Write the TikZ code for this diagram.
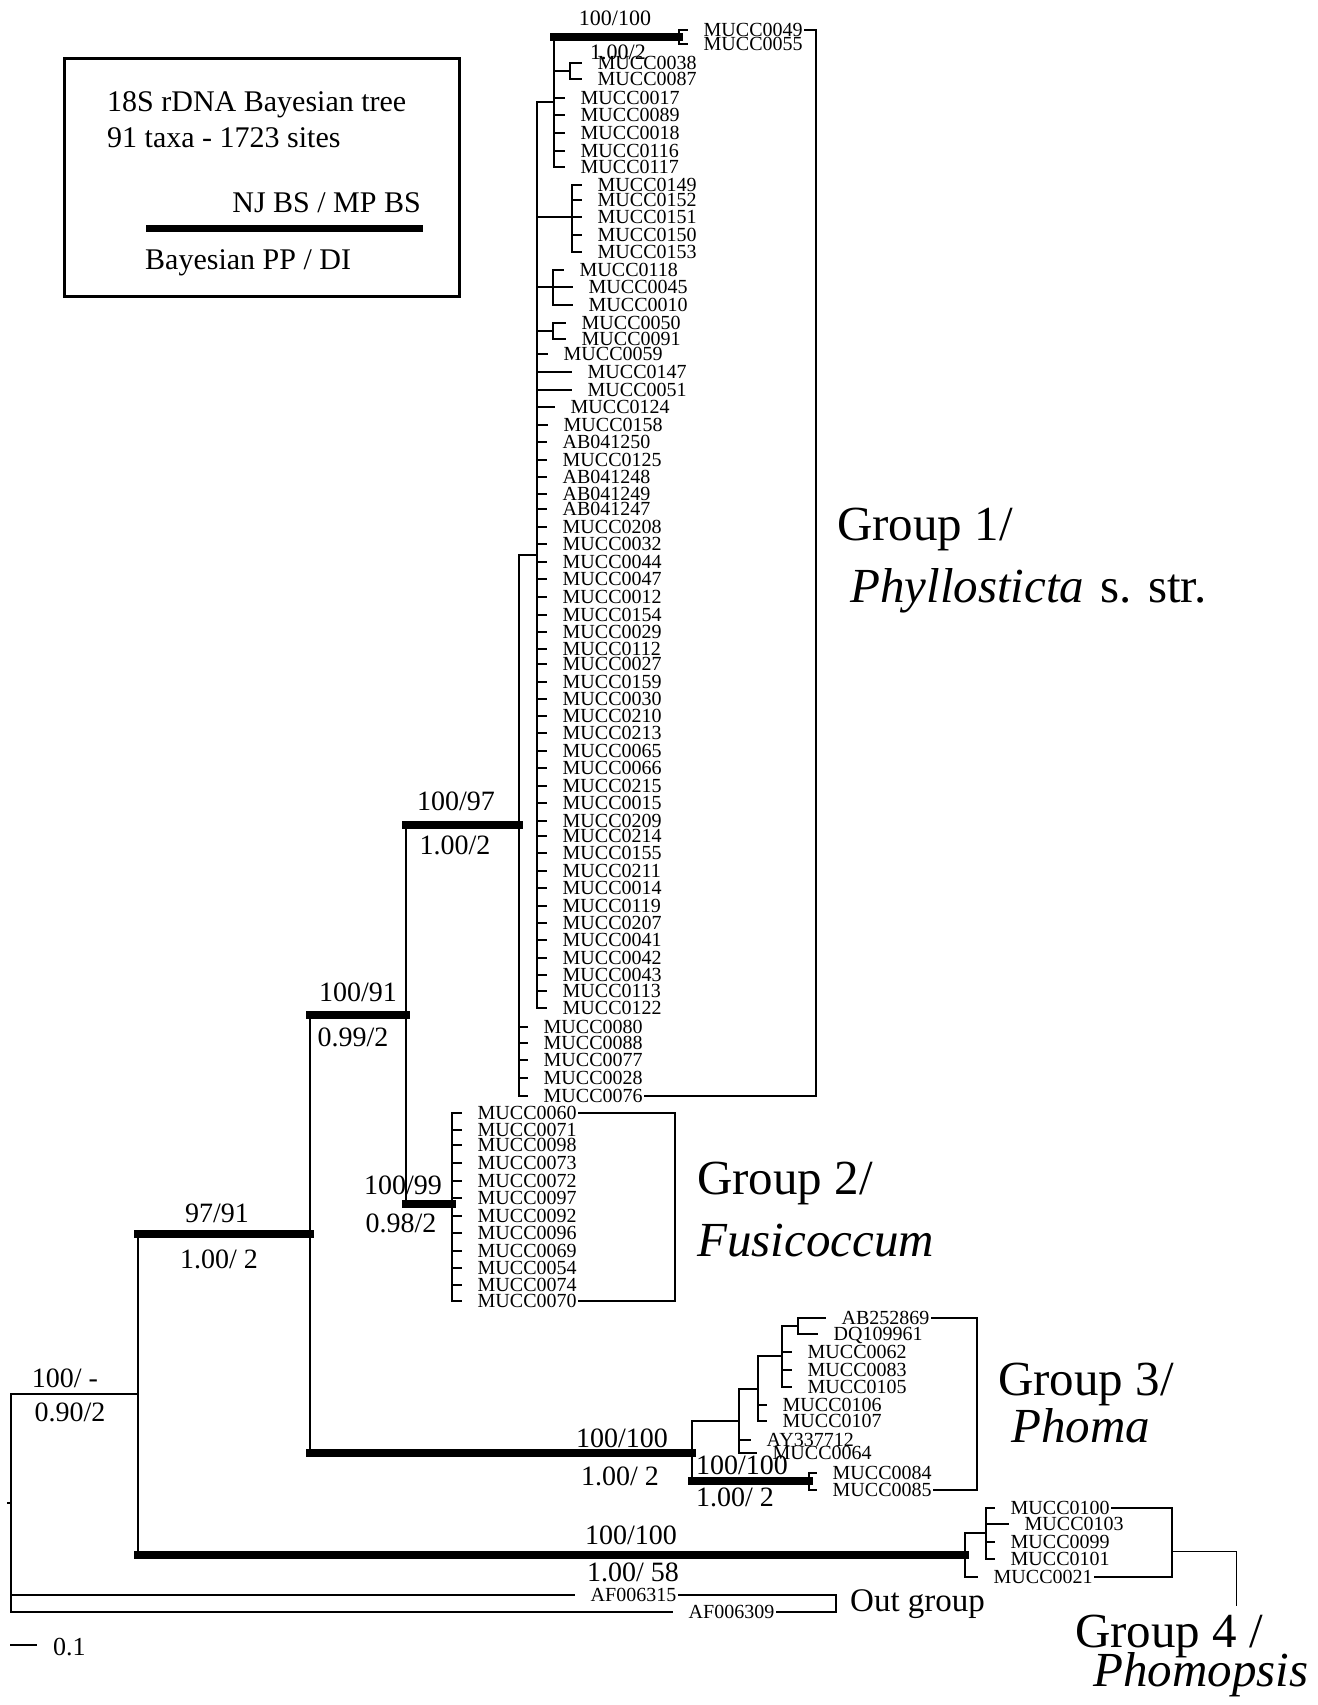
\documentclass[tikz,border=0pt]{standalone}
\usepackage{fontspec}
\setmainfont{Liberation Serif}
\begin{document}
\begin{tikzpicture}[x=1pt, y=-1pt,
    br/.style={line width=1.8pt},
    bar/.style={line width=8pt, line cap=rect},
    tip/.style={line width=1.8pt, shorten >=14pt},
    taxon/.style={anchor=west, inner xsep=1.5pt, inner ysep=0pt, text height=13pt, text depth=0pt, font=\fontsize{20}{20}\selectfont},
    supp/.style={inner sep=0pt, font=\fontsize{28}{28}\selectfont},
    legtxt/.style={inner sep=0pt, font=\fontsize{30}{30}\selectfont},
    grp/.style={anchor=base west, inner sep=0pt, font=\fontsize{49}{49}\selectfont}]
    \useasboundingbox (0,0) rectangle (1317,1705);

    % legend
    \node[draw, line width=2.5pt, minimum width=395pt, minimum height=238pt, anchor=north west] (legend) at (63,57) {};
    \node[legtxt, anchor=base west] (title) at (107,111) {18S rDNA Bayesian tree};
    \node[legtxt, anchor=base west] (taxa) at (107,147) {91 taxa - 1723 sites};
    \node[legtxt, anchor=base east] (bs) at (421,212) {NJ BS / MP BS};
    \node[legtxt, anchor=base west] (pp) at (145,269) {Bayesian PP / DI};
    \coordinate (lb0) at (146,228);
    \coordinate (lb1) at (423,228);
    \draw[line width=7pt] (lb0) -- (lb1);

    % internal nodes
    \coordinate (root) at (11,1503);
    \coordinate (rstub) at (7,1503);
    \coordinate (n1234) at (138,1394);
    \coordinate (n123) at (310,1234);
    \coordinate (n12) at (406,1015);
    \coordinate (ng1) at (519,825);
    \coordinate (na) at (537,555);
    \coordinate (nb) at (554,102);
    \coordinate (ntop) at (679,37);
    \coordinate (nc) at (570,71);
    \coordinate (nd) at (572,217);
    \coordinate (ne) at (553,287);
    \coordinate (nf) at (553,331);
    \coordinate (ng2) at (452,1204);
    \coordinate (ng3) at (692,1453);
    \coordinate (ng3a) at (739,1421);
    \coordinate (ng3b) at (809,1481);
    \coordinate (ng3c) at (758,1389);
    \coordinate (ng3d) at (782,1356);
    \coordinate (ng3e) at (798,1326);
    \coordinate (ng4) at (965,1555);
    \coordinate (ng4a) at (986,1533);

    % group 1 taxa
    \node[taxon] (m0049) at (702,30) {MUCC0049};
    \node[taxon] (m0055) at (702,44) {MUCC0055};
    \node[taxon] (m0038) at (596,63) {MUCC0038};
    \node[taxon] (m0087) at (596,79) {MUCC0087};
    \node[taxon] (m0017) at (579,98) {MUCC0017};
    \node[taxon] (m0089) at (579,115) {MUCC0089};
    \node[taxon] (m0018) at (579,133) {MUCC0018};
    \node[taxon] (m0116) at (579,151) {MUCC0116};
    \node[taxon] (m0117) at (579,167) {MUCC0117};
    \node[taxon] (m0149) at (596,185) {MUCC0149};
    \node[taxon] (m0152) at (596,200) {MUCC0152};
    \node[taxon] (m0151) at (596,217) {MUCC0151};
    \node[taxon] (m0150) at (596,235) {MUCC0150};
    \node[taxon] (m0153) at (596,252) {MUCC0153};
    \node[taxon] (m0118) at (578,270) {MUCC0118};
    \node[taxon] (m0045) at (587,287) {MUCC0045};
    \node[taxon] (m0010) at (587,305) {MUCC0010};
    \node[taxon] (m0050) at (580,323) {MUCC0050};
    \node[taxon] (m0091) at (580,339) {MUCC0091};
    \node[taxon] (m0059) at (562,354) {MUCC0059};
    \node[taxon] (m0147) at (586,372) {MUCC0147};
    \node[taxon] (m0051) at (586,390) {MUCC0051};
    \node[taxon] (m0124) at (569,407) {MUCC0124};
    \node[taxon] (m0158) at (562,425) {MUCC0158};
    \node[taxon] (ab041250) at (561,442) {AB041250};
    \node[taxon] (m0125) at (561,460) {MUCC0125};
    \node[taxon] (ab041248) at (561,477) {AB041248};
    \node[taxon] (ab041249) at (561,494) {AB041249};
    \node[taxon] (ab041247) at (561,509) {AB041247};
    \node[taxon] (m0208) at (561,527) {MUCC0208};
    \node[taxon] (m0032) at (561,544) {MUCC0032};
    \node[taxon] (m0044) at (561,562) {MUCC0044};
    \node[taxon] (m0047) at (561,579) {MUCC0047};
    \node[taxon] (m0012) at (561,597) {MUCC0012};
    \node[taxon] (m0154) at (561,615) {MUCC0154};
    \node[taxon] (m0029) at (561,632) {MUCC0029};
    \node[taxon] (m0112) at (561,649) {MUCC0112};
    \node[taxon] (m0027) at (561,664) {MUCC0027};
    \node[taxon] (m0159) at (561,682) {MUCC0159};
    \node[taxon] (m0030) at (561,699) {MUCC0030};
    \node[taxon] (m0210) at (561,716) {MUCC0210};
    \node[taxon] (m0213) at (561,733) {MUCC0213};
    \node[taxon] (m0065) at (561,751) {MUCC0065};
    \node[taxon] (m0066) at (561,768) {MUCC0066};
    \node[taxon] (m0215) at (561,786) {MUCC0215};
    \node[taxon] (m0015) at (561,803) {MUCC0015};
    \node[taxon] (m0209) at (561,821) {MUCC0209};
    \node[taxon] (m0214) at (561,836) {MUCC0214};
    \node[taxon] (m0155) at (561,853) {MUCC0155};
    \node[taxon] (m0211) at (561,871) {MUCC0211};
    \node[taxon] (m0014) at (561,888) {MUCC0014};
    \node[taxon] (m0119) at (561,906) {MUCC0119};
    \node[taxon] (m0207) at (561,923) {MUCC0207};
    \node[taxon] (m0041) at (561,940) {MUCC0041};
    \node[taxon] (m0042) at (561,958) {MUCC0042};
    \node[taxon] (m0043) at (561,975) {MUCC0043};
    \node[taxon] (m0113) at (561,991) {MUCC0113};
    \node[taxon] (m0122) at (561,1008) {MUCC0122};
    \node[taxon] (m0080) at (542,1027) {MUCC0080};
    \node[taxon] (m0088) at (542,1043) {MUCC0088};
    \node[taxon] (m0077) at (542,1060) {MUCC0077};
    \node[taxon] (m0028) at (542,1078) {MUCC0028};
    \node[taxon] (m0076) at (542,1096) {MUCC0076};

    % group 2 taxa
    \node[taxon] (m0060) at (476,1113) {MUCC0060};
    \node[taxon] (m0071) at (476,1130) {MUCC0071};
    \node[taxon] (m0098) at (476,1145) {MUCC0098};
    \node[taxon] (m0073) at (476,1163) {MUCC0073};
    \node[taxon] (m0072) at (476,1181) {MUCC0072};
    \node[taxon] (m0097) at (476,1198) {MUCC0097};
    \node[taxon] (m0092) at (476,1216) {MUCC0092};
    \node[taxon] (m0096) at (476,1233) {MUCC0096};
    \node[taxon] (m0069) at (476,1251) {MUCC0069};
    \node[taxon] (m0054) at (476,1268) {MUCC0054};
    \node[taxon] (m0074) at (476,1285) {MUCC0074};
    \node[taxon] (m0070) at (476,1301) {MUCC0070};

    % group 3 taxa
    \node[taxon] (ab252869) at (840,1318) {AB252869};
    \node[taxon] (dq109961) at (832,1334) {DQ109961};
    \node[taxon] (m0062) at (806,1352) {MUCC0062};
    \node[taxon] (m0083) at (806,1370) {MUCC0083};
    \node[taxon] (m0105) at (806,1387) {MUCC0105};
    \node[taxon] (m0106) at (781,1405) {MUCC0106};
    \node[taxon] (m0107) at (781,1421) {MUCC0107};
    \node[taxon] (ay337712) at (765,1440) {AY337712};
    \node[taxon] (m0064) at (771,1453) {MUCC0064};
    \node[taxon] (m0084) at (831,1473) {MUCC0084};
    \node[taxon] (m0085) at (831,1490) {MUCC0085};

    % group 4 taxa
    \node[taxon] (m0100) at (1009,1508) {MUCC0100};
    \node[taxon] (m0103) at (1023,1524) {MUCC0103};
    \node[taxon] (m0099) at (1009,1542) {MUCC0099};
    \node[taxon] (m0101) at (1009,1559) {MUCC0101};
    \node[taxon] (m0021) at (992,1577) {MUCC0021};

    % out group
    \node[taxon] (af006315) at (589,1595) {AF006315};
    \node[taxon] (af006309) at (687,1612) {AF006309};

    % backbone
    \draw[br] (rstub) -- (root);
    \draw[br] (root) |- (n1234);
    \draw[tip, line width=1.4pt] (root) |- (af006315.west);
    \draw[tip, line width=1.4pt] (root) |- (af006309.west);
    \draw[br] (n1234) -- (n1234 |- n123);
    \draw[bar] (n1234 |- n123) -- (n123);
    \draw[br] (n1234) -- (n1234 |- ng4);
    \draw[bar] (n1234 |- ng4) -- (ng4);
    \draw[br] (n123) -- (n123 |- n12);
    \draw[bar] (n123 |- n12) -- (n12);
    \draw[br] (n123) -- (n123 |- ng3);
    \draw[bar] (n123 |- ng3) -- (ng3);
    \draw[br] (n12) -- (n12 |- ng1);
    \draw[bar] (n12 |- ng1) -- (ng1);
    \draw[br] (n12) -- (n12 |- ng2);
    \draw[bar] (n12 |- ng2) -- (ng2);

    % group 1
    \draw[br] (ng1) |- (na);
    \draw[tip] (ng1) |- (m0080.west);
    \draw[tip] (ng1) |- (m0088.west);
    \draw[tip] (ng1) |- (m0077.west);
    \draw[tip] (ng1) |- (m0028.west);
    \draw[tip] (ng1) |- (m0076.west);
    \draw[br] (na) |- (nb);
    \draw[br] (na) |- (nd);
    \draw[br] (na) |- (ne);
    \draw[br] (na) |- (nf);
    \draw[br] (nb) -- (nb |- ntop);
    \draw[bar] (nb |- ntop) -- (ntop);
    \draw[tip] (ntop) |- (m0049.west);
    \draw[tip] (ntop) |- (m0055.west);
    \draw[br] (nb) |- (nc);
    \draw[tip] (nc) |- (m0038.west);
    \draw[tip] (nc) |- (m0087.west);
    \draw[tip] (nb) |- (m0017.west);
    \draw[tip] (nb) |- (m0089.west);
    \draw[tip] (nb) |- (m0018.west);
    \draw[tip] (nb) |- (m0116.west);
    \draw[tip] (nb) |- (m0117.west);
    \draw[tip] (nd) |- (m0149.west);
    \draw[tip] (nd) |- (m0152.west);
    \draw[tip] (nd) |- (m0151.west);
    \draw[tip] (nd) |- (m0150.west);
    \draw[tip] (nd) |- (m0153.west);
    \draw[tip] (ne) |- (m0118.west);
    \draw[tip] (ne) |- (m0045.west);
    \draw[tip] (ne) |- (m0010.west);
    \draw[tip] (nf) |- (m0050.west);
    \draw[tip] (nf) |- (m0091.west);
    \draw[tip] (na) |- (m0059.west);
    \draw[tip] (na) |- (m0147.west);
    \draw[tip] (na) |- (m0051.west);
    \draw[tip] (na) |- (m0124.west);
    \draw[tip] (na) |- (m0158.west);
    \draw[tip] (na) |- (ab041250.west);
    \draw[tip] (na) |- (m0125.west);
    \draw[tip] (na) |- (ab041248.west);
    \draw[tip] (na) |- (ab041249.west);
    \draw[tip] (na) |- (ab041247.west);
    \draw[tip] (na) |- (m0208.west);
    \draw[tip] (na) |- (m0032.west);
    \draw[tip] (na) |- (m0044.west);
    \draw[tip] (na) |- (m0047.west);
    \draw[tip] (na) |- (m0012.west);
    \draw[tip] (na) |- (m0154.west);
    \draw[tip] (na) |- (m0029.west);
    \draw[tip] (na) |- (m0112.west);
    \draw[tip] (na) |- (m0027.west);
    \draw[tip] (na) |- (m0159.west);
    \draw[tip] (na) |- (m0030.west);
    \draw[tip] (na) |- (m0210.west);
    \draw[tip] (na) |- (m0213.west);
    \draw[tip] (na) |- (m0065.west);
    \draw[tip] (na) |- (m0066.west);
    \draw[tip] (na) |- (m0215.west);
    \draw[tip] (na) |- (m0015.west);
    \draw[tip] (na) |- (m0209.west);
    \draw[tip] (na) |- (m0214.west);
    \draw[tip] (na) |- (m0155.west);
    \draw[tip] (na) |- (m0211.west);
    \draw[tip] (na) |- (m0014.west);
    \draw[tip] (na) |- (m0119.west);
    \draw[tip] (na) |- (m0207.west);
    \draw[tip] (na) |- (m0041.west);
    \draw[tip] (na) |- (m0042.west);
    \draw[tip] (na) |- (m0043.west);
    \draw[tip] (na) |- (m0113.west);
    \draw[tip] (na) |- (m0122.west);

    % group 2
    \draw[tip] (ng2) |- (m0060.west);
    \draw[tip] (ng2) |- (m0071.west);
    \draw[tip] (ng2) |- (m0098.west);
    \draw[tip] (ng2) |- (m0073.west);
    \draw[tip] (ng2) |- (m0072.west);
    \draw[tip] (ng2) |- (m0097.west);
    \draw[tip] (ng2) |- (m0092.west);
    \draw[tip] (ng2) |- (m0096.west);
    \draw[tip] (ng2) |- (m0069.west);
    \draw[tip] (ng2) |- (m0054.west);
    \draw[tip] (ng2) |- (m0074.west);
    \draw[tip] (ng2) |- (m0070.west);

    % group 3
    \draw[br] (ng3) |- (ng3a);
    \draw[br] (ng3) -- (ng3 |- ng3b);
    \draw[bar] (ng3 |- ng3b) -- (ng3b);
    \draw[tip] (ng3b) |- (m0084.west);
    \draw[tip] (ng3b) |- (m0085.west);
    \draw[br] (ng3a) |- (ng3c);
    \draw[tip] (ng3a) |- (ay337712.west);
    \draw[tip] (ng3a) |- (m0064.west);
    \draw[br] (ng3c) |- (ng3d);
    \draw[tip] (ng3c) |- (m0106.west);
    \draw[tip] (ng3c) |- (m0107.west);
    \draw[br] (ng3d) |- (ng3e);
    \draw[tip] (ng3d) |- (m0062.west);
    \draw[tip] (ng3d) |- (m0083.west);
    \draw[tip] (ng3d) |- (m0105.west);
    \draw[tip] (ng3e) |- (ab252869.west);
    \draw[tip] (ng3e) |- (dq109961.west);

    % group 4
    \draw[br] (ng4) |- (ng4a);
    \draw[tip] (ng4) |- (m0021.west);
    \draw[tip] (ng4a) |- (m0100.west);
    \draw[tip] (ng4a) |- (m0103.west);
    \draw[tip] (ng4a) |- (m0099.west);
    \draw[tip] (ng4a) |- (m0101.west);

    % support values
    \node[supp, font=\fontsize{22}{22}\selectfont] (b1) at (615,18) {100/100};
    \node[supp, font=\fontsize{22}{22}\selectfont] (p1) at (618,52) {1.00/2};
    \node[supp] (b2) at (456,801) {100/97};
    \node[supp] (p2) at (455,845) {1.00/2};
    \node[supp] (b3) at (358,992) {100/91};
    \node[supp] (p3) at (353,1037) {0.99/2};
    \node[supp] (b4) at (403,1185) {100/99};
    \node[supp] (p4) at (401,1223) {0.98/2};
    \node[supp] (b5) at (217,1213) {97/91};
    \node[supp] (p5) at (219,1259) {1.00/ 2};
    \node[supp] (b6) at (622,1438) {100/100};
    \node[supp] (p6) at (620,1476) {1.00/ 2};
    \node[supp] (b7) at (742,1465) {100/100};
    \node[supp] (p7) at (735,1497) {1.00/ 2};
    \node[supp] (b8) at (631,1535) {100/100};
    \node[supp] (p8) at (633,1572) {1.00/ 58};
    \node[supp] (b9) at (65,1378) {100/ -};
    \node[supp] (p9) at (70,1412) {0.90/2};

    % group brackets
    \coordinate (g1r) at (816,560);
    \coordinate (g2r) at (675,1200);
    \coordinate (g3r) at (977,1400);
    \coordinate (g4r) at (1172,1551);
    \coordinate (g4end) at (1236,1606);
    \coordinate (ogr) at (836,1600);
    \draw[br] (m0049.east) -| (g1r) |- (m0076.east);
    \draw[br] (m0060.east) -| (g2r) |- (m0070.east);
    \draw[br] (ab252869.east) -| (g3r) |- (m0085.east);
    \draw[br] (m0100.east) -| (g4r) |- (m0021.east);
    \draw[line width=1pt] (g4r) -| (g4end);
    \draw[br] (af006315.east) -| (ogr) |- (af006309.east);

    % group names
    \node[grp] (g1a) at (837,540) {Group 1/};
    \node[grp] (g1b) at (850,602) {\textit{Phyllosticta}\hspace{4pt} s. str.};
    \node[grp] (g2a) at (697,1194) {Group 2/};
    \node[grp] (g2b) at (697,1256) {\textit{Fusicoccum}};
    \node[grp] (g3a) at (998,1395) {Group 3/};
    \node[grp] (g3b) at (1011,1442) {\textit{Phoma}};
    \node[grp] (g4a) at (1075,1647) {Group 4 /};
    \node[grp] (g4b) at (1093,1686) {\textit{Phomopsis}};
    \node[anchor=base west, inner sep=0pt, font=\fontsize{33}{33}\selectfont] (outg) at (850,1611) {Out group};

    % scale bar
    \coordinate (sb0) at (10,1645);
    \coordinate (sb1) at (37,1645);
    \draw[line width=1.5pt] (sb0) -- (sb1);
    \node[anchor=west, inner sep=0pt, font=\fontsize{26}{26}\selectfont] (scl) at (53,1647) {0.1};
\end{tikzpicture}
\end{document}
